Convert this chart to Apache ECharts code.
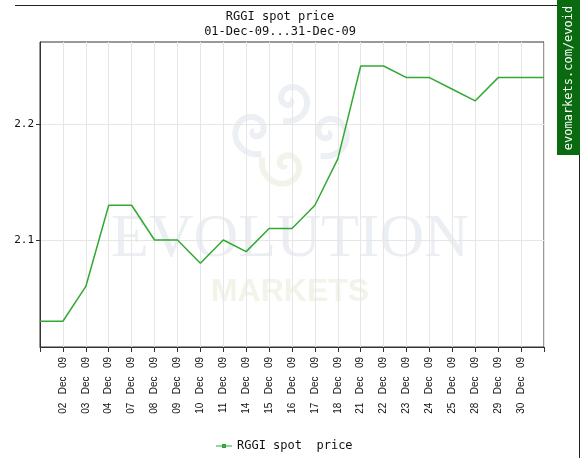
<!DOCTYPE html>
<html>
<head>
<meta charset="utf-8">
<script src="https://cdn.jsdelivr.net/npm/echarts@6/dist/echarts.min.js"></script>
<style>
  html, body { margin: 0; padding: 0; background: #fff; }
  #chart { width: 585px; height: 458px; }
</style>
</head>
<body>
<div id="chart"></div>
<script>
// trading days, december 2009
var days = ['01 Dec 09', '02 Dec 09', '03 Dec 09', '04 Dec 09', '07 Dec 09', '08 Dec 09',
  '09 Dec 09', '10 Dec 09', '11 Dec 09', '14 Dec 09', '15 Dec 09', '16 Dec 09',
  '17 Dec 09', '18 Dec 09', '21 Dec 09', '22 Dec 09', '23 Dec 09', '24 Dec 09',
  '25 Dec 09', '28 Dec 09', '29 Dec 09', '30 Dec 09', '31 Dec 09'];
var spot = [2.03, 2.03, 2.06, 2.13, 2.13, 2.10, 2.10, 2.08, 2.10, 2.09, 2.11, 2.11,
  2.13, 2.17, 2.25, 2.25, 2.24, 2.24, 2.23, 2.22, 2.24, 2.24, 2.24];
var yTicks = [2.1, 2.2];
var seriesName = 'RGGI spot  price';

var chart = echarts.init(document.getElementById('chart'));

// swirl of the watermark logo
function spiral(cx, cy, r, turns, start, dir) {
  var pts = [];
  var n = 60;
  for (var i = 0; i <= n; i++) {
    var t = i / n;
    var a = start + dir * t * turns * Math.PI * 2;
    pts.push([cx + r * t * Math.cos(a), cy + r * t * Math.sin(a)]);
  }
  return pts;
}
var logoGray = '#eceff3';
var logoGreen = '#f1f4ea';
var logo = [
  [290, 100, 22, logoGray, 1.3, 0, 1],
  [254, 131, 24, logoGray, 1.3, Math.PI, -1],
  [328, 133, 24, logoGray, 1.3, 0, 1],
  [285, 165, 24, logoGreen, 1.3, Math.PI / 2, 1]
].map(function (s) {
  return {
    type: 'polyline', z: -10, silent: true,
    shape: { points: spiral(s[0], s[1], s[2], s[4], s[5], s[6]) },
    style: { stroke: s[3], lineWidth: 6, fill: null }
  };
});

chart.setOption({
  animation: false,
  grid: {
    left: 40, right: 41, top: 42, bottom: 111,
    show: true, borderColor: '#333', borderWidth: 1
  },
  legend: {
    left: 211, top: 435,
    icon: 'path://M0,2.5h16v1h-16z M6,1h4v4h-4z',
    itemWidth: 16, itemHeight: 6, itemGap: 10,
    textStyle: { fontFamily: 'DejaVu Sans Mono', fontSize: 12, color: '#111' },
    data: [seriesName]
  },
  xAxis: {
    type: 'category',
    boundaryGap: false,
    data: days,
    axisLine: { lineStyle: { color: '#333', width: 1 } },
    axisTick: { show: true, interval: 0, length: 5, lineStyle: { color: '#333' } },
    splitLine: { show: true, interval: 0, lineStyle: { color: '#e6e6e6' } },
    axisLabel: {
      rotate: 90,
      interval: function (i) { return i > 0 && i < days.length - 1; },
      formatter: function (v) { return v.split(' ').join('   '); },
      fontFamily: 'Liberation Sans', fontSize: 10, color: '#111', margin: 10
    }
  },
  yAxis: {
    type: 'value',
    min: 2.0078, max: 2.2707,
    axisLine: { show: true, lineStyle: { color: '#333', width: 1 } },
    axisTick: { show: true, customValues: yTicks, length: 4, lineStyle: { color: '#333' } },
    axisLabel: {
      customValues: yTicks,
      formatter: function (v) { return v.toFixed(1); },
      fontFamily: 'DejaVu Sans Mono', fontSize: 11, color: '#111', margin: 6
    },
    splitLine: { show: true, lineStyle: { color: '#e6e6e6' } }
  },
  series: [{
    name: seriesName,
    type: 'line',
    data: spot,
    showSymbol: false,
    color: '#33a833',
    lineStyle: { color: '#33a833', width: 1.5 },
    z: 5
  }],
  graphic: {
    elements: [
      {
        type: 'text', z: -10, silent: true,
        style: {
          text: 'EVOLUTION', x: 290, y: 240, textAlign: 'center', textVerticalAlign: 'middle',
          font: '62px "Liberation Serif"', fill: '#ebeef2'
        }
      },
      {
        type: 'text', z: -10, silent: true,
        style: {
          text: 'MARKETS', x: 290, y: 292, textAlign: 'center', textVerticalAlign: 'middle',
          font: 'bold 32px "Liberation Sans"', fill: '#f2f4ea'
        }
      }
    ].concat(logo).concat([
      {
        type: 'text', z: 10, silent: true,
        style: {
          text: 'RGGI spot price\n01-Dec-09...31-Dec-09', x: 280, y: 9,
          textAlign: 'center', font: '12px "DejaVu Sans Mono"', lineHeight: 15, fill: '#111'
        }
      },
      {
        type: 'line', z: 10, silent: true,
        shape: { x1: 15, y1: 5.5, x2: 557, y2: 5.5 },
        style: { stroke: '#222', lineWidth: 1 }
      },
      {
        type: 'line', z: 10, silent: true,
        shape: { x1: 579.5, y1: 0, x2: 579.5, y2: 458 },
        style: { stroke: '#222', lineWidth: 1 }
      },
      {
        type: 'rect', z: 11, silent: true,
        shape: { x: 557, y: 0, width: 23, height: 155 },
        style: { fill: '#0a6a10' }
      },
      {
        type: 'text', z: 12, silent: true, x: 569, y: 78, rotation: Math.PI / 2,
        style: {
          text: 'evomarkets.com/evoid', x: 0, y: 0, textAlign: 'center', textVerticalAlign: 'middle',
          font: '12px "DejaVu Sans Mono"', fill: '#fff'
        }
      }
    ])
  }
});
</script>
</body>
</html>
